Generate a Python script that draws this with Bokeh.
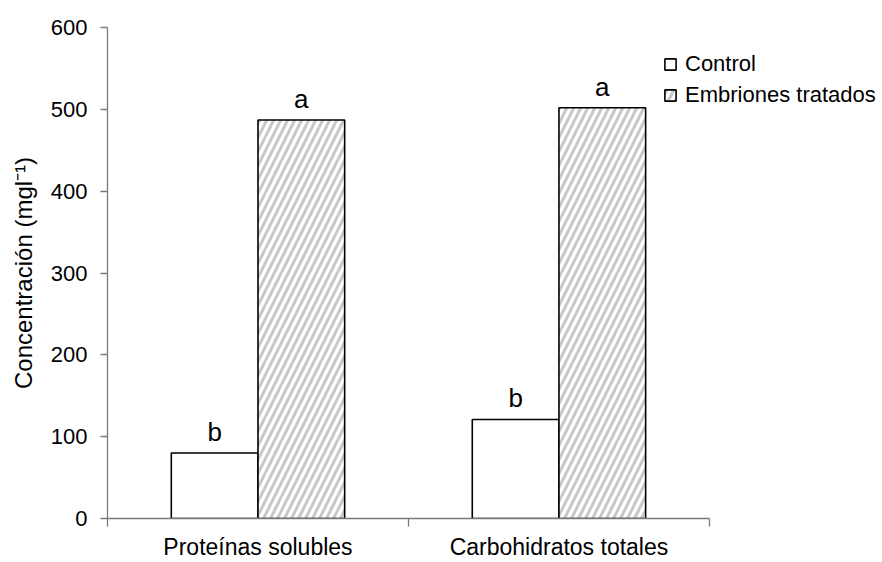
from bokeh.plotting import figure
from bokeh.models import (ColumnDataSource, Range1d, FixedTicker, Legend, LegendItem)
from bokeh.transform import dodge
from bokeh.core.properties import value
from bokeh.embed import file_html
from bokeh.resources import INLINE

categories = ["Proteínas solubles", "Carbohidratos totales"]
control = [80, 121]
tratados = [487, 502]
letters_control = ["b", "b"]
letters_tratados = ["a", "a"]
series_names = ["Control", "Embriones tratados"]
y_ticks = [0, 100, 200, 300, 400, 500, 600]

FONT = "Liberation Sans"
AX = "#7a7a7a"
BAR_W = 0.288
N = len(categories)

xpos = [i + 0.5 for i in range(N)]
src = ColumnDataSource(dict(x=xpos, control=control, tratados=tratados,
                            lc=letters_control, lt=letters_tratados))

p = figure(width=882, height=562, output_backend="svg", toolbar_location=None,
           x_range=Range1d(0, N * 1.2875), y_range=Range1d(0, 600),
           min_border_left=107, min_border_right=0, min_border_top=27,
           min_border_bottom=43)
p.outline_line_color = None
p.grid.visible = False
p.background_fill_color = "white"

r1 = p.vbar(x=dodge("x", -BAR_W / 2), top="control", width=BAR_W, bottom=0,
            source=src, fill_color="white", line_color="black", line_width=1.6)
r2 = p.vbar(x=dodge("x", BAR_W / 2), top="tratados", width=BAR_W, bottom=0,
            source=src, fill_color="white", line_color="black", line_width=1.6,
            hatch_pattern="/", hatch_color="#c8c8c8", hatch_weight=3, hatch_scale=14)

p.text(x=dodge("x", -BAR_W / 2), y="control", text="lc", source=src,
       text_align="center", text_baseline="alphabetic", y_offset=-21,
       text_font=value(FONT), text_font_size="26px", text_color="black")
p.text(x=dodge("x", BAR_W / 2), y="tratados", text="lt", source=src,
       text_align="center", text_baseline="alphabetic", y_offset=-21,
       text_font=value(FONT), text_font_size="26px", text_color="black")

# x axis (line limited to the categories)
xa = p.xaxis[0]
xa.bounds = (0, N)
xa.ticker = FixedTicker(ticks=xpos, minor_ticks=list(range(N + 1)))
xa.major_label_overrides = {x: c for x, c in zip(xpos, categories)}
xa.major_tick_line_color = None
xa.major_tick_out = 0
xa.major_tick_in = 0
xa.minor_tick_out = 8
xa.minor_tick_in = 0
xa.minor_tick_line_color = AX
xa.minor_tick_line_width = 1.3
xa.axis_line_color = AX
xa.axis_line_width = 1.3
xa.major_label_text_font = FONT
xa.major_label_text_font_size = "23px"
xa.major_label_text_color = "black"
xa.major_label_standoff = 7

# y axis
ya = p.yaxis[0]
ya.ticker = FixedTicker(ticks=y_ticks)
ya.minor_tick_line_color = None
ya.major_tick_out = 7
ya.major_tick_in = 0
ya.major_tick_line_color = AX
ya.major_tick_line_width = 1.3
ya.axis_line_color = AX
ya.axis_line_width = 1.3
ya.major_label_text_font = FONT
ya.major_label_text_font_size = "22px"
ya.major_label_text_color = "black"
ya.major_label_standoff = 13
ya.axis_label = "Concentración (mgl⁻¹)"
ya.axis_label_text_font = FONT
ya.axis_label_text_font_size = "24px"
ya.axis_label_text_font_style = "normal"
ya.axis_label_text_color = "black"
ya.axis_label_standoff = 11

legend = Legend(items=[LegendItem(label=series_names[0], renderers=[r1]),
                       LegendItem(label=series_names[1], renderers=[r2])],
                location=(556, 410), orientation="vertical",
                glyph_width=14, glyph_height=14, label_height=14,
                label_standoff=8, spacing=5, padding=0, margin=0,
                border_line_color=None, background_fill_alpha=0,
                label_text_font=FONT, label_text_font_size="22px",
                label_text_color="black")
p.add_layout(legend)

open("out.html", "w").write(file_html(p, INLINE))
